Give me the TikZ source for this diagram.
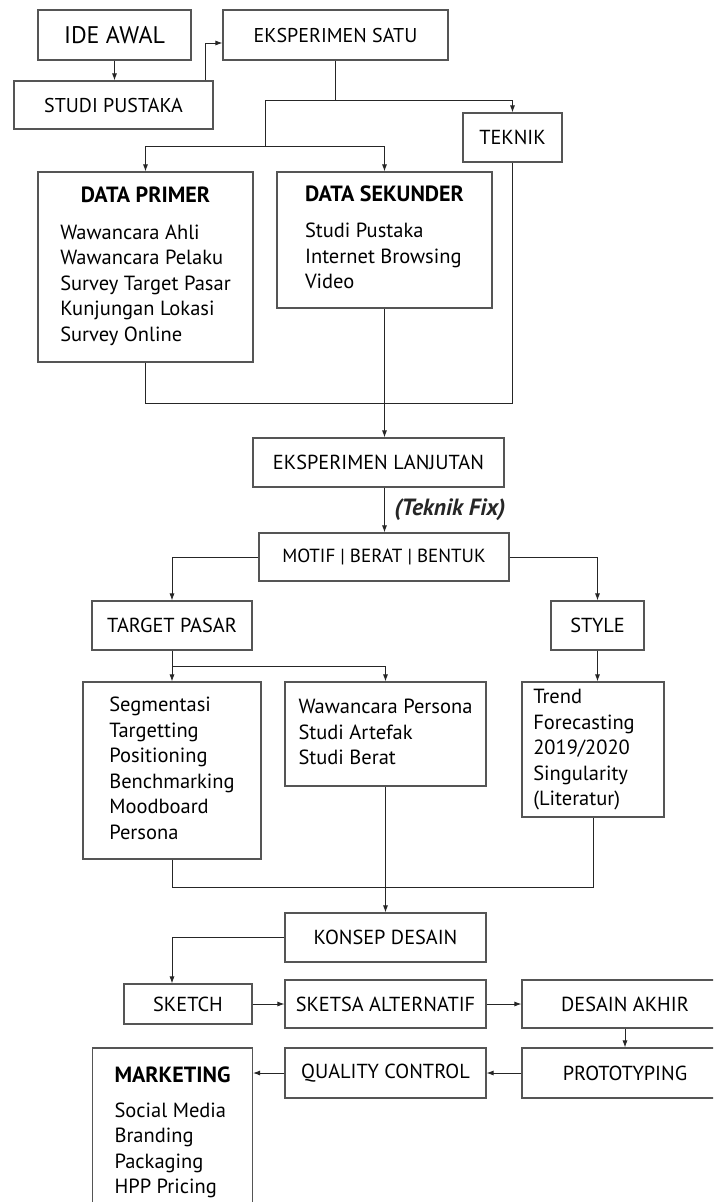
\documentclass[tikz,border=0pt]{standalone}
\usepackage{fontspec}
\setmainfont{PT Sans}
\usetikzlibrary{arrows.meta}
\definecolor{LineDark}{HTML}{262626}
\definecolor{BoxGray}{HTML}{555555}
\newcommand{\boxhead}[1]{\multicolumn{1}{@{}c@{}}{\fontsize{22}{24}\selectfont\bfseries #1}}
\tikzset{
  box/.style 2 args={rectangle,draw=BoxGray,line width=1.1pt,fill=white,
                     minimum width=#1,minimum height=#2,inner sep=0pt,
                     font=\fontsize{20.3}{24}\selectfont},
  lst/.style={font=\fontsize{20.5}{25.5}\selectfont},
  arr/.style={-{Latex[length=7pt,width=5pt]},line width=0.9pt,color=LineDark},
  ln/.style={line width=0.9pt,color=LineDark},
}

\begin{document}
\begin{tikzpicture}[x=1pt,y=-1pt]

  \useasboundingbox (0,0) rectangle (713,1202);
  \clip (0,0) rectangle (713,1202);
  \fill[white] (0,0) rectangle (713,1202);

  \node[box={153pt}{50pt},font=\fontsize{24}{28}\selectfont] (ide) at (114.5,35){IDE AWAL};
  \node[box={225pt}{50pt},font=\fontsize{20}{24}\selectfont] (eks1) at (335.5,35){EKSPERIMEN SATU};
  \node[box={199pt}{48pt},font=\fontsize{20}{24}\selectfont] (studi) at (113.5,105){STUDI PUSTAKA};
  \node[box={99pt}{49pt}] (teknik) at (512.5,137.5){TEKNIK};

  \node[box={215pt}{190pt},lst] (primer) at (145.5,267){%
    \begin{tabular}{@{}l@{}}
      \boxhead{DATA PRIMER}\\[11pt]
      Wawancara Ahli\\ Wawancara Pelaku\\ Survey Target Pasar\\
      Kunjungan Lokasi\\ Survey Online
    \end{tabular}};
  \node[box={215pt}{136pt},lst] (sekunder) at (384.5,240){%
    \begin{tabular}{@{}l@{}}
      \boxhead{DATA SEKUNDER}\\[11pt]
      Studi Pustaka\\ Internet Browsing\\ Video
    \end{tabular}};

  \node[box={251pt}{49pt}] (lanjut) at (378.5,462.5){EKSPERIMEN LANJUTAN};
  \node[box={250pt}{48pt},font=\fontsize{19}{23}\selectfont] (motif) at (384,557){MOTIF | BERAT | BENTUK};
  \node[box={160pt}{49pt}] (tpasar) at (172,625.5){TARGET PASAR};
  \node[box={93pt}{49pt}] (gaya) at (597.5,625.5){STYLE};

  \node[box={178pt}{177pt},lst] (segmen) at (172,770.5){%
    \begin{tabular}{@{}l@{}}
      Segmentasi\\ Targetting\\ Positioning\\ Benchmarking\\ Moodboard\\ Persona
    \end{tabular}};
  \node[box={201pt}{104pt},lst] (persona) at (385.5,734){%
    \begin{tabular}{@{}l@{}}
      Wawancara Persona\\ Studi Artefak\\ Studi Berat
    \end{tabular}};
  \node[box={142pt}{135pt},lst] (trend) at (593,749.5){%
    \begin{tabular}{@{}l@{\hspace{18pt}}}
      Trend\\ Forecasting\\ 2019/2020\\ Singularity\\ (Literatur)
    \end{tabular}};

  \node[box={201pt}{49pt}] (konsep) at (385.5,937.5){KONSEP DESAIN};
  \node[box={128pt}{40pt}] (sketch) at (188,1004){SKETCH};
  \node[box={201pt}{48pt}] (sketsa) at (385.5,1004){SKETSA ALTERNATIF};
  \node[box={206pt}{48pt}] (akhir) at (625,1004){DESAIN AKHIR};
  \node[box={206pt}{50pt}] (proto) at (625,1073){PROTOTYPING};
  \node[box={201pt}{50pt}] (qc) at (385.5,1073){QUALITY CONTROL};
  \node[box={160pt}{170pt},lst] (mkt) at (172.5,1133){%
    \begin{tabular}{@{}l@{}}
      \boxhead{MARKETING}\\[9pt]
      Social Media\\ Branding\\ Packaging\\ HPP Pricing
    \end{tabular}};

  \coordinate (j1) at (265,100);
  \coordinate (j2) at (265,146);

  \draw[arr] (ide) -- (ide |- studi.north);
  \draw[arr] ([xshift=-8pt]studi.north east) |- ([yshift=-8pt]eks1.west);
  \draw[ln] (eks1.south) -- (eks1.south |- j1);
  \draw[arr] (j1) -| (teknik.north);
  \draw[ln] (j1) -- (j2);
  \draw[arr] (j2) -| (primer.north);
  \draw[arr] (j2) -| (sekunder.north);

  \draw[ln] (primer.south) -- ++(0,41) -| (teknik.south);
  \draw[arr] (sekunder.south) -- (sekunder.south |- lanjut.north);
  \draw[arr] (lanjut.south -| sekunder.south) -- (motif.north -| sekunder.south)
    node[midway,right=6pt,font=\fontsize{23.5}{26}\selectfont\bfseries\itshape]{(Teknik Fix)};

  \draw[arr] (motif.west) -| (tpasar.north);
  \draw[arr] (motif.east) -| (gaya.north);
  \draw[arr] (tpasar.south) -- (segmen.north);
  \draw[arr] ([yshift=-16pt]tpasar.south) -| (persona.north);
  \draw[arr] (gaya.south) -- (gaya.south |- trend.north);

  \draw[ln] (segmen.south) -- ++(0,28) -| (trend.south);
  \draw[arr] (persona.south) -- (konsep.north);
  \draw[arr] (konsep.west) -| ([xshift=-16pt]sketch.north);
  \draw[arr] (sketch) -- (sketsa);
  \draw[arr] (sketsa) -- (akhir);
  \draw[arr] (akhir) -- (proto);
  \draw[arr] (proto) -- (qc);
  \draw[arr] (qc.west) -- (qc.west -| mkt.east);

\end{tikzpicture}
\end{document}
